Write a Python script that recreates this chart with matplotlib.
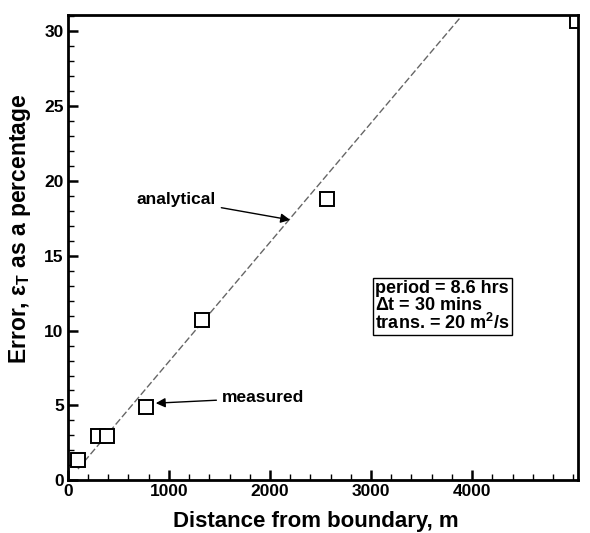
import matplotlib
matplotlib.use("Agg")
import matplotlib.pyplot as plt
from matplotlib.ticker import MultipleLocator

plt.rcParams['font.family'] = ['Liberation Sans', 'DejaVu Sans']
plt.rcParams['mathtext.fontset'] = 'custom'
plt.rcParams['mathtext.rm'] = 'Liberation Sans:bold'
plt.rcParams['mathtext.it'] = 'Liberation Sans:bold'

# measured data
measured_x = [100, 300, 390, 770, 1325, 2565, 5040]
measured_y = [1.35, 2.95, 2.95, 4.9, 10.7, 18.8, 30.7]

# analytical line end points
analytical_x = [100, 3880]
analytical_y = [0.75, 30.9]

x_ticks = [0, 1000, 2000, 3000, 4000]
y_ticks = [0, 5, 10, 15, 20, 25, 30]

fig = plt.figure(figsize=(5.9, 5.33), dpi=100)
ax = fig.add_axes([0.115, 0.099, 0.865, 0.873])

ax.plot(analytical_x, analytical_y, color='#666666', lw=1.0, ls=(0, (5, 2)))
ax.plot(measured_x, measured_y, ls='none', marker='s', ms=9.5, mfc='white',
        mec='black', mew=1.4)

ax.set_xlim(0, 5050)
ax.set_ylim(0, 31.1)
ax.set_xticks(x_ticks)
ax.set_yticks(y_ticks)
ax.xaxis.set_minor_locator(MultipleLocator(200))
ax.yaxis.set_minor_locator(MultipleLocator(1))
ax.tick_params(which='major', direction='in', length=7, width=1.8,
               labelsize=12.5, pad=3)
ax.tick_params(axis='x', which='major', pad=3)
ax.tick_params(which='minor', direction='in', length=4, width=1.0)
for lab in ax.get_xticklabels() + ax.get_yticklabels():
    lab.set_fontweight('bold')
for s in ax.spines.values():
    s.set_linewidth(2)

ax.set_xlabel('Distance from boundary, m', fontsize=16, fontweight='bold')
ax.xaxis.set_label_coords(0.485, -0.088, transform=ax.transAxes)
ax.xaxis.label.set_va('center')
ax.set_ylabel(r'Error, $\epsilon_T$ as a percentage', fontsize=16.5,
              fontweight='bold')
ax.yaxis.set_label_coords(-0.068, 0.54)

ax.annotate('analytical', xy=(2200, 17.4), xytext=(680, 18.75),
            fontsize=12.5, fontweight='bold', va='center', ha='left',
            arrowprops=dict(arrowstyle='-|>', color='black', lw=1,
                            mutation_scale=14, shrinkA=2, shrinkB=0))
ax.annotate('measured', xy=(870, 5.15), xytext=(1525, 5.5),
            fontsize=12.5, fontweight='bold', va='center', ha='left',
            arrowprops=dict(arrowstyle='-|>', color='black', lw=1,
                            mutation_scale=14, shrinkA=2, shrinkB=0))

ax.text(3040, 9.85, 'period = 8.6 hrs\n$\\Delta$t = 30 mins\ntrans. = 20 m$^2$/s',
        fontsize=13, fontweight='bold', va='bottom', ha='left',
        linespacing=0.95,
        bbox=dict(boxstyle='square,pad=0.12', fc='white', ec='black', lw=1))

fig.savefig('out.png', dpi=100)
